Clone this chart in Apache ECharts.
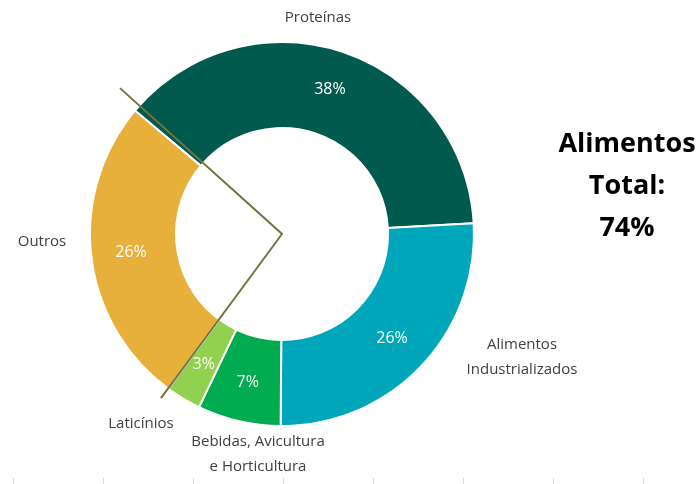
<!DOCTYPE html>
<html>
<head>
<meta charset="utf-8">
<script src="https://cdn.jsdelivr.net/npm/echarts@6/dist/echarts.min.js"></script>
<style>
  html, body { margin: 0; padding: 0; background: #fff; }
  #chart { width: 700px; height: 484px; }
</style>
</head>
<body>
<div id="chart"></div>
<script>
// dados do gráfico (percentuais)
var categorias = ['Proteínas', 'Alimentos\nIndustrializados', 'Bebidas, Avicultura\ne Horticultura', 'Laticínios', 'Outros']
var valores = [38, 26, 7, 3, 26]
var cores = ['#005a4e', '#00a6b9', '#00ac4f', '#92d050', '#e6b03b']
var eixoTicks = ['', '', '', '', '', '', '']

// posição dos rótulos externos (texto)
var posRotulos = [[318, 18], [522, 357], [258, 454], [141, 424], [42, 242]]

var cx = 282
var cy = 234
var chart = echarts.init(document.getElementById('chart'))

// total de alimentos = tudo menos "Outros"
var totalAlimentos = 0
for (var i = 0; i < valores.length - 1; i++) totalAlimentos += valores[i]
var soma = totalAlimentos + valores[valores.length - 1]

// linhas que separam "Outros" do resto
var startAngle = 140
function ponto (ang, r) {
  var a = (90 - startAngle + ang) * Math.PI / 180 // ângulo horário a partir do topo
  return [cx + r * Math.sin(a), cy - r * Math.cos(a)]
}
var angFimLat = totalAlimentos / soma * 360
var linha = [ponto(angFimLat, 204), [cx, cy], ponto(2, 218)]

var dados = categorias.map(function (n, i) {
  return { name: n, value: valores[i], itemStyle: { color: cores[i] } }
})

chart.setOption({
  animation: false,
  grid: { left: 13, right: 57, bottom: 6, top: 440 },
  xAxis: {
    type: 'category',
    data: eixoTicks,
    axisLine: { show: false },
    axisLabel: { show: false },
    axisTick: { show: true, length: 7, lineStyle: { color: '#d9d9d9' } }
  },
  yAxis: { type: 'value', show: false },
  graphic: [
    {
      type: 'polyline',
      z: 100,
      shape: { points: linha },
      style: { stroke: '#74743e', lineWidth: 2, fill: null }
    },
    {
      type: 'text',
      x: 627,
      y: 123,
      style: {
        text: 'Alimentos\nTotal:\n' + totalAlimentos + '%',
        font: 'bold 27px "Open Sans"',
        fill: '#000',
        align: 'center',
        verticalAlign: 'top',
        lineHeight: 42
      }
    }
  ],
  series: [
    {
      type: 'pie',
      center: [cx, cy],
      radius: [106, 192],
      startAngle: startAngle,
      clockwise: true,
      avoidLabelOverlap: false,
      itemStyle: { borderColor: '#fff', borderWidth: 2 },
      label: {
        show: true,
        position: 'inside',
        formatter: '{c}%',
        color: '#fff',
        fontSize: 16,
        fontFamily: 'Open Sans'
      },
      labelLine: { show: false },
      data: dados
    },
    {
      type: 'pie',
      center: [cx, cy],
      radius: [106, 192],
      startAngle: startAngle,
      silent: true,
      avoidLabelOverlap: false,
      itemStyle: { color: 'transparent' },
      label: {
        show: true,
        position: 'outside',
        formatter: '{b}',
        color: '#404040',
        fontSize: 15,
        lineHeight: 25,
        align: 'center',
        overflow: 'none',
        fontFamily: 'Open Sans'
      },
      labelLine: { show: false },
      labelLayout: function (p) {
        var pos = posRotulos[p.dataIndex]
        return { x: pos[0], y: pos[1], align: 'center', verticalAlign: 'middle' }
      },
      data: categorias.map(function (n, i) { return { name: n, value: valores[i] } })
    }
  ]
})
</script>
</body>
</html>
